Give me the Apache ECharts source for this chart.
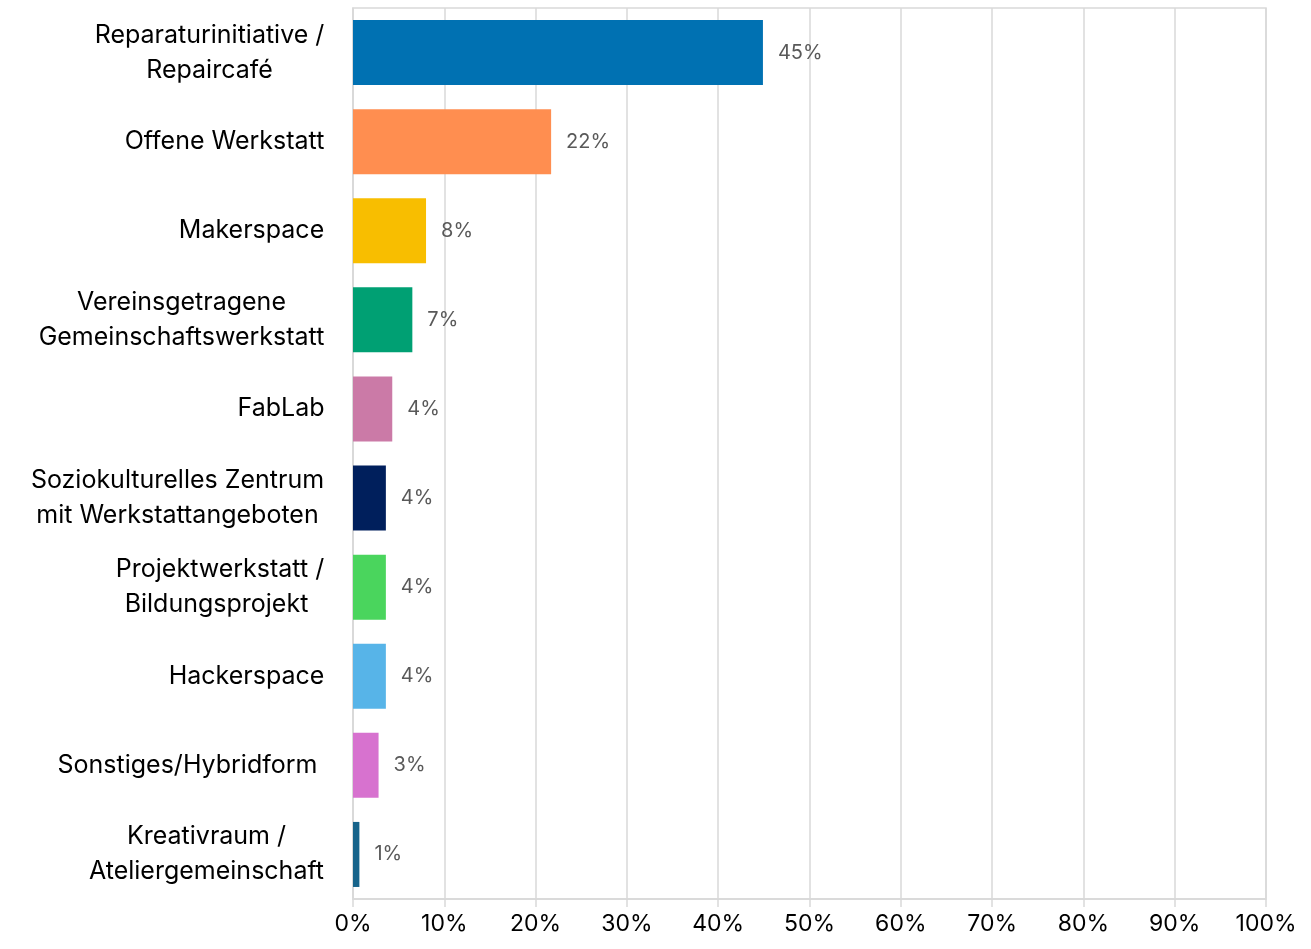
<!DOCTYPE html>
<html>
<head>
<meta charset="utf-8">
<script src="https://cdn.jsdelivr.net/npm/echarts@6/dist/echarts.min.js"></script>
<style>
  html, body { margin: 0; padding: 0; background: #fff; }
  #main { width: 1311px; height: 949px; }
</style>
</head>
<body>
<div id="main"></div>
<script>
// Kategorien (von oben nach unten)
var categories = [
  'Reparaturinitiative /\nRepaircafé',
  'Offene Werkstatt',
  'Makerspace',
  'Vereinsgetragene\nGemeinschaftswerkstatt',
  'FabLab',
  'Soziokulturelles Zentrum\nmit Werkstattangeboten',
  'Projektwerkstatt /\nBildungsprojekt ',
  'Hackerspace',
  'Sonstiges/Hybridform ',
  'Kreativraum /\nAteliergemeinschaft'
];
// Anteile in Prozent
var values = [44.9, 21.7, 8.0, 6.5, 4.3, 3.6, 3.6, 3.6, 2.8, 0.7];
var barColors = ['#0071B2', '#FF8E50', '#F8BE00', '#00A073', '#CB7AA7',
                 '#001F5C', '#4AD55D', '#57B4E8', '#D772CF', '#17648B'];
var xTicks = [0, 10, 20, 30, 40, 50, 60, 70, 80, 90, 100];

var labelFont = '"Inter", "Noto Sans", sans-serif';
var labelSize = 25;

// Breite jedes Labels messen, damit die Zeilen zentriert untereinander stehen
var ctx = document.createElement('canvas').getContext('2d');
ctx.font = labelSize + 'px ' + labelFont;
var rich = {};
categories.forEach(function (c, i) {
  var w = 0;
  c.split('\n').forEach(function (line) {
    w = Math.max(w, ctx.measureText(line).width);
  });
  rich['r' + i] = {
    width: Math.ceil(w) + 1,
    align: 'center',
    fontSize: labelSize,
    fontFamily: labelFont,
    color: '#000',
    lineHeight: 35
  };
});

var chart = echarts.init(document.getElementById('main'));
var option = {
  animation: false,
  grid: {
    left: 353,
    right: 45,
    top: 8,
    bottom: 50,
    show: true,
    borderColor: '#d9d9d9',
    borderWidth: 1.5
  },
  xAxis: {
    type: 'value',
    min: 0,
    max: 100,
    interval: 10,
    axisLine: { show: true, lineStyle: { color: '#d9d9d9', width: 1.5 } },
    axisTick: { show: true, length: 8, lineStyle: { color: '#d9d9d9', width: 1.5 } },
    axisLabel: {
      color: '#000',
      fontSize: 23,
      fontFamily: labelFont,
      margin: 14,
      formatter: function (v) { return xTicks.indexOf(v) >= 0 ? v + '%' : ''; }
    },
    splitLine: { show: true, lineStyle: { color: '#d9d9d9', width: 1.5 } }
  },
  yAxis: {
    type: 'category',
    inverse: true,
    data: categories,
    axisLine: { show: true, lineStyle: { color: '#d9d9d9', width: 1.5 } },
    axisTick: { show: false },
    axisLabel: {
      margin: 28,
      formatter: function (v, i) {
        return v.split('\n').map(function (line) {
          return '{r' + i + '|' + line + '}';
        }).join('\n');
      },
      rich: rich
    }
  },
  series: [{
    type: 'bar',
    barWidth: '73%',
    data: values.map(function (v, i) {
      return { value: v, itemStyle: { color: barColors[i] } };
    }),
    label: {
      show: true,
      position: 'right',
      distance: 15,
      color: '#595959',
      fontSize: 20,
      fontFamily: labelFont,
      formatter: function (p) { return Math.round(p.value) + '%'; }
    }
  }]
};
chart.setOption(option);
</script>
</body>
</html>
